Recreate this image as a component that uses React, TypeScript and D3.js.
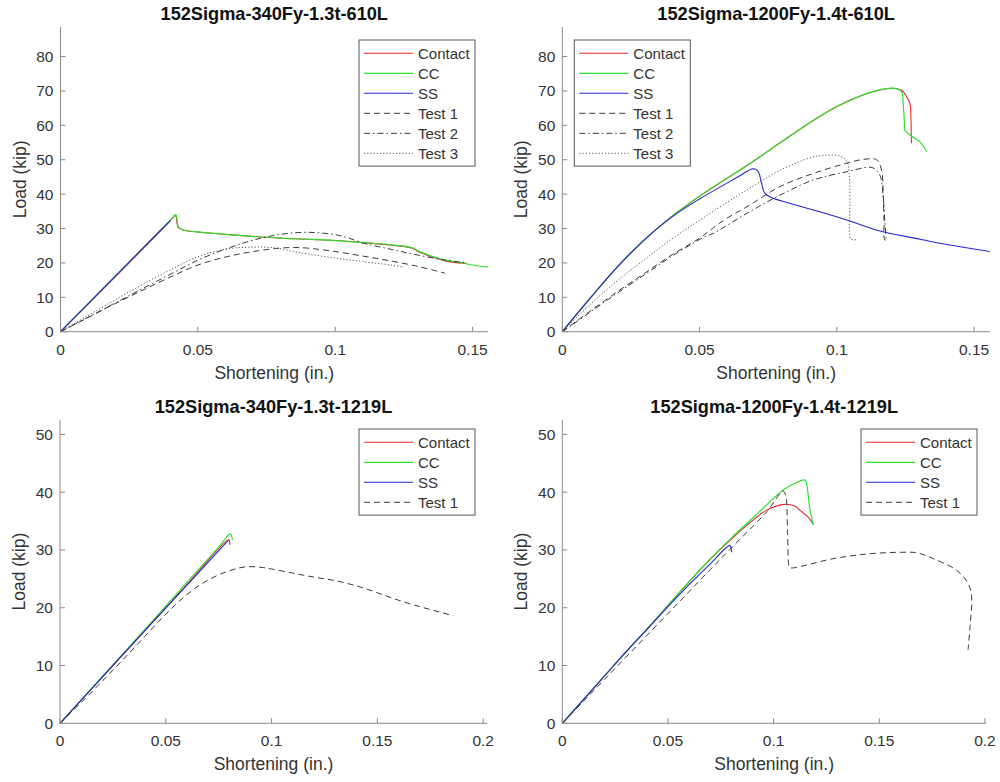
import React from 'react';
import * as d3 from 'd3';

type Pt = [number, number];

// ---------- Data (Load in kip vs Shortening in in.) ----------
// Panel 1: 152Sigma-340Fy-1.3t-610L
const p1Contact: Pt[] = [[0,0],[0.041,33.2],[0.0415,33.8],[0.042,33.6],[0.0425,31.2],[0.043,30.2],[0.045,29.5],[0.05,29.0],[0.06,28.3],[0.07,27.7],[0.08,27.2],[0.09,26.9],[0.1,26.5],[0.11,25.9],[0.12,25.2],[0.128,24.3],[0.131,23.0],[0.135,21.8],[0.14,20.6],[0.145,20.0],[0.148,19.8]];
const p1CC: Pt[] = [[0,0],[0.041,33.3],[0.0418,34.0],[0.0422,33.7],[0.0427,31.0],[0.0435,30.0],[0.045,29.5],[0.05,29.0],[0.06,28.3],[0.07,27.7],[0.08,27.2],[0.09,26.9],[0.1,26.5],[0.11,25.9],[0.12,25.3],[0.128,24.4],[0.131,23.2],[0.135,22.0],[0.14,20.8],[0.145,20.2],[0.15,19.4],[0.1556,18.8]];
const p1SS: Pt[] = [[0,0],[0.01,8.1],[0.02,16.2],[0.03,24.3],[0.0401,32.4]];
const p1Test1: Pt[] = [[0,0],[0.01,4.1],[0.02,8.2],[0.03,12.1],[0.04,15.9],[0.05,19.4],[0.06,21.7],[0.07,23.3],[0.08,24.3],[0.085,24.5],[0.09,24.3],[0.1,23.3],[0.11,22.0],[0.12,20.6],[0.13,19.0],[0.14,17.0]];
const p1Test2: Pt[] = [[0,0],[0.01,4.2],[0.02,8.4],[0.03,12.6],[0.04,16.7],[0.05,20.8],[0.06,24.0],[0.07,26.6],[0.08,28.3],[0.09,28.9],[0.1,28.2],[0.105,27.2],[0.11,25.8],[0.12,24.0],[0.13,22.3],[0.14,20.8],[0.147,20.1]];
const p1Test3: Pt[] = [[0,0],[0.01,4.7],[0.02,9.3],[0.03,13.8],[0.04,18.0],[0.05,21.8],[0.06,24.0],[0.07,24.6],[0.078,24.4],[0.085,23.3],[0.09,22.6],[0.1,21.4],[0.11,20.4],[0.12,19.4],[0.125,18.8]];

// Panel 2: 152Sigma-1200Fy-1.4t-610L
const p2Contact: Pt[] = [[0,0],[0.01,9.6],[0.02,18.8],[0.03,26.8],[0.04,33.6],[0.05,39.4],[0.06,44.6],[0.07,49.8],[0.08,55.3],[0.09,60.7],[0.1,65.5],[0.11,69.0],[0.1157,70.3],[0.12,70.8],[0.122,70.6],[0.124,70.0],[0.1254,68.3],[0.1266,66.4],[0.127,62.0],[0.1272,55.2],[0.1273,54.8]];
const p2CC: Pt[] = [[0,0],[0.01,9.6],[0.02,18.8],[0.03,26.8],[0.04,33.6],[0.05,39.4],[0.06,44.6],[0.07,49.8],[0.08,55.3],[0.09,60.7],[0.1,65.5],[0.11,69.0],[0.1157,70.3],[0.12,70.8],[0.122,70.6],[0.1236,69.8],[0.1242,66.0],[0.1246,61.0],[0.1248,58.6],[0.1266,57.2],[0.1303,55.2],[0.1327,52.3]];
const p2SS: Pt[] = [[0,0],[0.01,9.6],[0.02,18.8],[0.03,26.8],[0.04,33.4],[0.05,38.6],[0.06,43.2],[0.065,45.5],[0.069,47.3],[0.0705,47.2],[0.0716,46.2],[0.0726,43.1],[0.0738,40.2],[0.0768,38.8],[0.08,38.0],[0.0914,35.4],[0.1036,32.5],[0.1157,29.3],[0.1303,26.9],[0.1351,26.1],[0.145,24.7],[0.1557,23.3]];
const p2Test1: Pt[] = [[0,0],[0.01,5.9],[0.02,11.6],[0.03,17.0],[0.04,22.4],[0.05,27.2],[0.055,30.2],[0.06,33.0],[0.0672,36.3],[0.0793,42.2],[0.0914,46.0],[0.1036,49.0],[0.1096,50.1],[0.1145,50.0],[0.1163,47.0],[0.1169,40.0],[0.1172,32.0],[0.1175,26.7],[0.1185,26.9]];
const p2Test2: Pt[] = [[0,0],[0.01,5.6],[0.02,11.2],[0.03,16.6],[0.04,22.0],[0.05,26.8],[0.053,28.0],[0.055,28.6],[0.0672,34.4],[0.0793,39.7],[0.0914,44.1],[0.1036,46.5],[0.113,47.7],[0.1157,45.5],[0.1168,40.0],[0.1175,32.0],[0.118,26.5]];
const p2Test3: Pt[] = [[0,0],[0.01,7.8],[0.02,14.8],[0.03,21.0],[0.04,27.0],[0.05,32.4],[0.06,37.6],[0.07,42.6],[0.08,47.2],[0.09,50.5],[0.095,51.3],[0.101,51.1],[0.1036,49.6],[0.1045,46.0],[0.1048,38.0],[0.105,27.1],[0.106,26.7],[0.1075,26.8]];

// Panel 3: 152Sigma-340Fy-1.3t-1219L
const p3Contact: Pt[] = [[0,0],[0.02,8.0],[0.04,16.0],[0.06,24.0],[0.0798,31.8],[0.0802,31.2],[0.0803,30.9]];
const p3CC: Pt[] = [[0,0],[0.02,8.1],[0.04,16.2],[0.06,24.4],[0.075,30.5],[0.0805,32.8],[0.0815,31.7]];
const p3SS: Pt[] = [[0,0],[0.02,8.0],[0.04,16.0],[0.06,23.9],[0.0796,31.7]];
const p3Test1: Pt[] = [[0,0],[0.01,3.6],[0.02,7.3],[0.03,11.1],[0.04,15.0],[0.05,18.9],[0.06,22.3],[0.07,24.8],[0.08,26.4],[0.088,27.1],[0.095,27.0],[0.1,26.7],[0.11,26.0],[0.12,25.3],[0.13,24.7],[0.14,23.8],[0.15,22.6],[0.16,21.3],[0.17,20.2],[0.18,19.2],[0.186,18.6]];

// Panel 4: 152Sigma-1200Fy-1.4t-1219L
const p4Contact: Pt[] = [[0,0],[0.01,4.1],[0.02,8.2],[0.03,12.3],[0.04,16.3],[0.05,20.4],[0.06,24.5],[0.07,28.4],[0.0809,32.2],[0.0904,35.2],[0.0967,36.9],[0.1053,37.9],[0.11,37.6],[0.1124,36.9],[0.116,35.8],[0.1187,34.5]];
const p4CC: Pt[] = [[0,0],[0.01,4.1],[0.02,8.2],[0.03,12.3],[0.04,16.3],[0.05,20.4],[0.06,24.5],[0.07,28.4],[0.0809,32.4],[0.09,35.5],[0.0967,37.8],[0.1045,40.4],[0.11,41.5],[0.1148,42.1],[0.1158,41.0],[0.117,37.5],[0.1187,34.3]];
const p4SS: Pt[] = [[0,0],[0.01,4.1],[0.02,8.2],[0.03,12.3],[0.04,16.2],[0.05,20.2],[0.06,24.0],[0.07,27.6],[0.0793,30.8],[0.0799,30.2],[0.0801,29.6]];
const p4Test1: Pt[] = [[0,0],[0.01,3.8],[0.02,7.6],[0.03,11.4],[0.04,15.2],[0.05,19.0],[0.06,22.8],[0.07,26.6],[0.0793,30.1],[0.0967,36.6],[0.1045,40.2],[0.1058,39.2],[0.1066,33.0],[0.1074,27.1],[0.108,26.9],[0.1282,28.5],[0.144,29.3],[0.1597,29.6],[0.168,29.5],[0.1755,28.5],[0.1866,26.5],[0.192,24.2],[0.1937,21.9],[0.193,17.0],[0.192,12.7]];

const titles = ['152Sigma-340Fy-1.3t-610L', '152Sigma-1200Fy-1.4t-610L', '152Sigma-340Fy-1.3t-1219L', '152Sigma-1200Fy-1.4t-1219L'];
const seriesNames6 = ['Contact', 'CC', 'SS', 'Test 1', 'Test 2', 'Test 3'];
const seriesNames4 = ['Contact', 'CC', 'SS', 'Test 1'];
const xTicks610 = [0, 0.05, 0.1, 0.15];
const xTicks1219 = [0, 0.05, 0.1, 0.15, 0.2];
const yTicks610 = [0, 10, 20, 30, 40, 50, 60, 70, 80];
const yTicks1219 = [0, 10, 20, 30, 40, 50];
const xLabel = 'Shortening (in.)';
const yLabel = 'Load (kip)';

// ---------- Styles ----------
const FONT = "'Liberation Sans', Arial, Helvetica, sans-serif";
const styles: Record<string, { stroke: string; dash?: string; width: number }> = {
  'Contact': { stroke: '#e8292c', width: 1.1 },
  'CC': { stroke: '#2ee02e', width: 1.2 },
  'SS': { stroke: '#2626d0', width: 1.1 },
  'Test 1': { stroke: '#3a3a3a', dash: '6,4', width: 1 },
  'Test 2': { stroke: '#3a3a3a', dash: '6,3,1.5,3', width: 1 },
  'Test 3': { stroke: '#555555', dash: '1.2,2', width: 1 },
};

type PanelSpec = {
  title: string;
  names: string[];
  data: Pt[][];
  xDomain: [number, number];
  xRange: [number, number];
  yDomain: [number, number];
  yRange: [number, number];
  xTicks: number[];
  yTicks: number[];
  legend: [number, number];
};

const panels: PanelSpec[] = [
  { title: titles[0], names: seriesNames6, data: [p1Contact, p1CC, p1SS, p1Test1, p1Test2, p1Test3],
    xDomain: [0, 0.1556], xRange: [60.5, 488], yDomain: [0, 88.6], yRange: [331.7, 27],
    xTicks: xTicks610, yTicks: yTicks610, legend: [359, 40] },
  { title: titles[1], names: seriesNames6, data: [p2Contact, p2CC, p2SS, p2Test1, p2Test2, p2Test3],
    xDomain: [0, 0.1558], xRange: [562.3, 990], yDomain: [0, 88.6], yRange: [331.7, 27],
    xTicks: xTicks610, yTicks: yTicks610, legend: [574.3, 40] },
  { title: titles[2], names: seriesNames4, data: [p3Contact, p3CC, p3SS, p3Test1],
    xDomain: [0, 0.2018], xRange: [60, 487], yDomain: [0, 52.5], yRange: [723.3, 420],
    xTicks: xTicks1219, yTicks: yTicks1219, legend: [359, 429] },
  { title: titles[3], names: seriesNames4, data: [p4Contact, p4CC, p4SS, p4Test1],
    xDomain: [0, 0.2005], xRange: [562.3, 986], yDomain: [0, 52.5], yRange: [723.3, 420],
    xTicks: xTicks1219, yTicks: yTicks1219, legend: [861, 429] },
];

function Panel({ p }: { p: PanelSpec }) {
  const x = d3.scaleLinear().domain(p.xDomain).range(p.xRange);
  const y = d3.scaleLinear().domain(p.yDomain).range(p.yRange);
  const line = d3.line<Pt>().x(d => x(d[0])).y(d => y(d[1])).curve(d3.curveCatmullRom.alpha(0.5));
  const [x0, x1] = p.xRange;
  const [yb, yt] = p.yRange;
  const axisColor = '#8a8a8a';
  const textColor = '#333';
  const [lx, ly] = p.legend;
  const lw = 116;
  const lh = 13.3 * 2 + 20 * (p.names.length - 1) - 0.5;
  return (
    <g>
      {p.data.map((d, i) => {
        const s = styles[p.names[i]];
        return (
          <path key={i} d={line(d) || ''} fill="none" stroke={s.stroke} strokeWidth={s.width}
            strokeDasharray={s.dash} strokeLinejoin="round" />
        );
      })}
      <line x1={x0} x2={x0} y1={yt} y2={yb} stroke={axisColor} strokeWidth={1} />
      <line x1={x0} x2={x1} y1={yb} y2={yb} stroke={axisColor} strokeWidth={1} />
      {p.yTicks.map(t => (
        <g key={'y' + t}>
          <line x1={x0} x2={x0 + 5} y1={y(t)} y2={y(t)} stroke={axisColor} strokeWidth={1} />
          <text x={x0 - 7} y={y(t) + 5.5} textAnchor="end" fontSize={15.5} fill={textColor} fontFamily={FONT}>{String(t)}</text>
        </g>
      ))}
      {p.xTicks.map(t => (
        <g key={'x' + t}>
          <line x1={x(t)} x2={x(t)} y1={yb} y2={yb - 5} stroke={axisColor} strokeWidth={1} />
          <text x={x(t)} y={yb + 23} textAnchor="middle" fontSize={15.5} fill={textColor} fontFamily={FONT}>{String(t)}</text>
        </g>
      ))}
      <text x={(x0 + x1) / 2} y={yb + 47} textAnchor="middle" fontSize={17.5} fill={textColor} fontFamily={FONT}>{xLabel}</text>
      <text transform={`translate(${x0 - 35},${(yt + yb) / 2}) rotate(-90)`} textAnchor="middle" fontSize={17.5} fill={textColor} fontFamily={FONT}>{yLabel}</text>
      <text x={(x0 + x1) / 2} y={yt - 7} textAnchor="middle" fontSize={18.2} fontWeight="bold" fill="#111" fontFamily={FONT}>{p.title}</text>
      <rect x={lx} y={ly} width={lw} height={lh} fill="#fff" stroke="#555" strokeWidth={1} />
      {p.names.map((n, i) => {
        const s = styles[n];
        const cy = ly + 13.3 + 20 * i;
        return (
          <g key={n}>
            <line x1={lx + 5} x2={lx + 54} y1={cy} y2={cy} stroke={s.stroke} strokeWidth={s.width} strokeDasharray={s.dash} />
            <text x={lx + 59} y={cy + 5.3} fontSize={15} fill={textColor} fontFamily={FONT}>{n}</text>
          </g>
        );
      })}
    </g>
  );
}

export default function App() {
  return (
    <svg width={1000} height={782} viewBox="0 0 1000 782"
      style={{ position: 'absolute', left: 0, top: 0, background: '#fff' }}>
      <rect x={0} y={0} width={1000} height={782} fill="#fff" />
      {panels.map((p, i) => <Panel key={i} p={p} />)}
    </svg>
  );
}
